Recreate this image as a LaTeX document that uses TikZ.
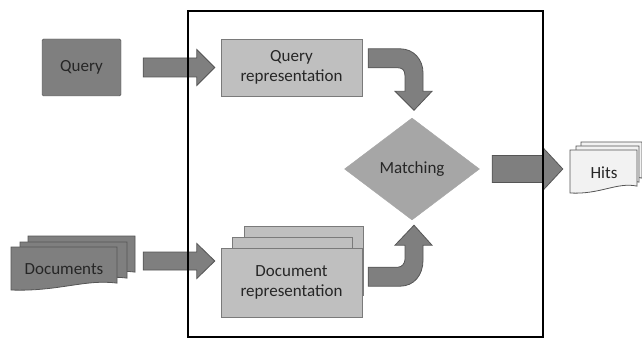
\documentclass[tikz,border=0pt]{standalone}
\usepackage{fontspec}
\setmainfont{Carlito}
\usetikzlibrary{shapes.geometric,calc}
\definecolor{darkfill}{HTML}{7F7F7F}
\definecolor{darkline}{HTML}{555555}
\definecolor{lightfill}{HTML}{BFBFBF}
\definecolor{lightline}{HTML}{7A7A7A}
\definecolor{midfill}{HTML}{A6A6A6}
\definecolor{paperfill}{HTML}{F2F2F2}
\definecolor{ink}{HTML}{262626}
\tikzset{blockarrow/.style n args={3}{draw=darkline,fill=darkfill,line width=0.8pt,
    to path={let \p1=(\tikztostart), \p2=(\tikztotarget) in
      (\x1,\y1+#1) -- (\x2-#3,\y1+#1) -- (\x2-#3,\y1+#2) -- (\x2,\y1)
      -- (\x2-#3,\y1-#2) -- (\x2-#3,\y1-#1) -- (\x1,\y1-#1) -- cycle}}}
\tikzset{bentarrow/.style={draw=darkline,fill=darkfill,line width=0.8pt}}

% one sheet with a wavy lower edge: style, x, y, width, height
\newcommand\docpage[5]{%
  \filldraw[#1,shift={(#2,#3)}] (0,0) -- (#4,0) -- (#4,0.84*#5)
    .. controls (0.7*#4,0.74*#5) and (0.45*#4,1.04*#5) .. (0,#5) -- cycle;}

\begin{document}
\begin{tikzpicture}[x=1pt,y=-1pt,font=\fontsize{17pt}{20.5pt}\selectfont,text=ink]

\tikzstyle{qbox}=[draw=darkline,fill=darkfill,rounded corners=1.5pt,
  minimum width=79pt,minimum height=57pt]
\tikzstyle{repbox}=[draw=lightline,fill=lightfill,align=center,
  minimum width=141pt,minimum height=57pt]
\tikzstyle{darkpage}=[draw=darkline,fill=darkfill,line width=0.8pt]
\tikzstyle{lightpage}=[draw=darkline,fill=paperfill,line width=0.8pt]

\useasboundingbox (0,0) rectangle (642,339);

% inputs
\node[qbox] (query) at (81.5,67.5) {Query};
\docpage{darkpage}{28}{236}{107}{43}
\docpage{darkpage}{20}{242}{107}{43}
\docpage{darkpage}{11}{247}{106}{43}
\node[minimum width=106pt] (docs) at (64,269) {Documents};

% representations
\node[repbox] (qrep) at (291.5,67.5) {Query\\representation};
\node[repbox,minimum width=119pt,minimum height=69pt] (drep3) at (303.5,260.5) {};
\node[repbox,minimum width=120pt,minimum height=69pt] (drep2) at (292,271.5) {};
\node[repbox,minimum height=69pt] (drep) at (291.5,282.5) {Document\\representation};

% matching and output
\node[diamond,draw=midfill,fill=midfill,inner sep=0pt,
  minimum width=135pt,minimum height=102pt] (match) at (412,169) {Matching};
\docpage{lightpage}{581}{142}{61}{43}
\docpage{lightpage}{576}{146}{63}{43}
\docpage{lightpage}{570}{150}{67}{43}
\node[minimum width=67pt] (hits) at (604,173) {Hits};

% straight arrows
\draw[blockarrow={9.5pt}{18pt}{18pt}] ([xshift=22pt]query.east) to ([xshift=-6pt]qrep.west);
\draw[blockarrow={9pt}{17.5pt}{18pt}] ([xshift=26pt,yshift=8pt]docs.east) to ([xshift=-6pt]drep.west);
\draw[blockarrow={13.5pt}{21.5pt}{20pt}] ([xshift=12.5pt]match.east) to ([xshift=-7.5pt]hits.west);

% bent arrows into the diamond
\filldraw[bentarrow] let \p1=(qrep.north east), \p2=(match.north) in
  (\x1+6pt,\y1-10pt) -- (\x2-12pt,\y1-10pt)
  .. controls (\x2+2pt,\y1-10pt) and (\x2+11pt,\y1-21pt) .. (\x2+11pt,\y1-34pt)
  -- (\x2+11pt,\y2+26.5pt) -- (\x2+20pt,\y2+26.5pt) -- (\x2+2pt,\y2+7.5pt)
  -- (\x2-17pt,\y2+26.5pt) -- (\x2-7pt,\y2+26.5pt) -- (\x2-7pt,\y1-37pt)
  .. controls (\x2-7pt,\y1-31pt) and (\x2-10pt,\y1-29pt) .. (\x2-14pt,\y1-29pt)
  -- (\x1+6pt,\y1-29pt) -- cycle;
\filldraw[bentarrow] let \p1=(drep.south east), \p2=(match.south) in
  (\x1+6pt,\y1+31pt) -- (\x2-12pt,\y1+31pt)
  .. controls (\x2+2pt,\y1+31pt) and (\x2+11pt,\y1+42pt) .. (\x2+11pt,\y1+57pt)
  -- (\x2+11pt,\y2-25pt) -- (\x2+20pt,\y2-25pt) -- (\x2+2pt,\y2-5pt)
  -- (\x2-17pt,\y2-25pt) -- (\x2-7pt,\y2-25pt) -- (\x2-7pt,\y1+58pt)
  .. controls (\x2-7pt,\y1+54pt) and (\x2-10pt,\y1+50pt) .. (\x2-14pt,\y1+50pt)
  -- (\x1+6pt,\y1+50pt) -- cycle;

% system boundary
\node[draw=black,line width=2pt,inner sep=0pt,minimum width=355pt,
  minimum height=326pt] (frame) at (365.5,174) {};
\end{tikzpicture}
\end{document}
